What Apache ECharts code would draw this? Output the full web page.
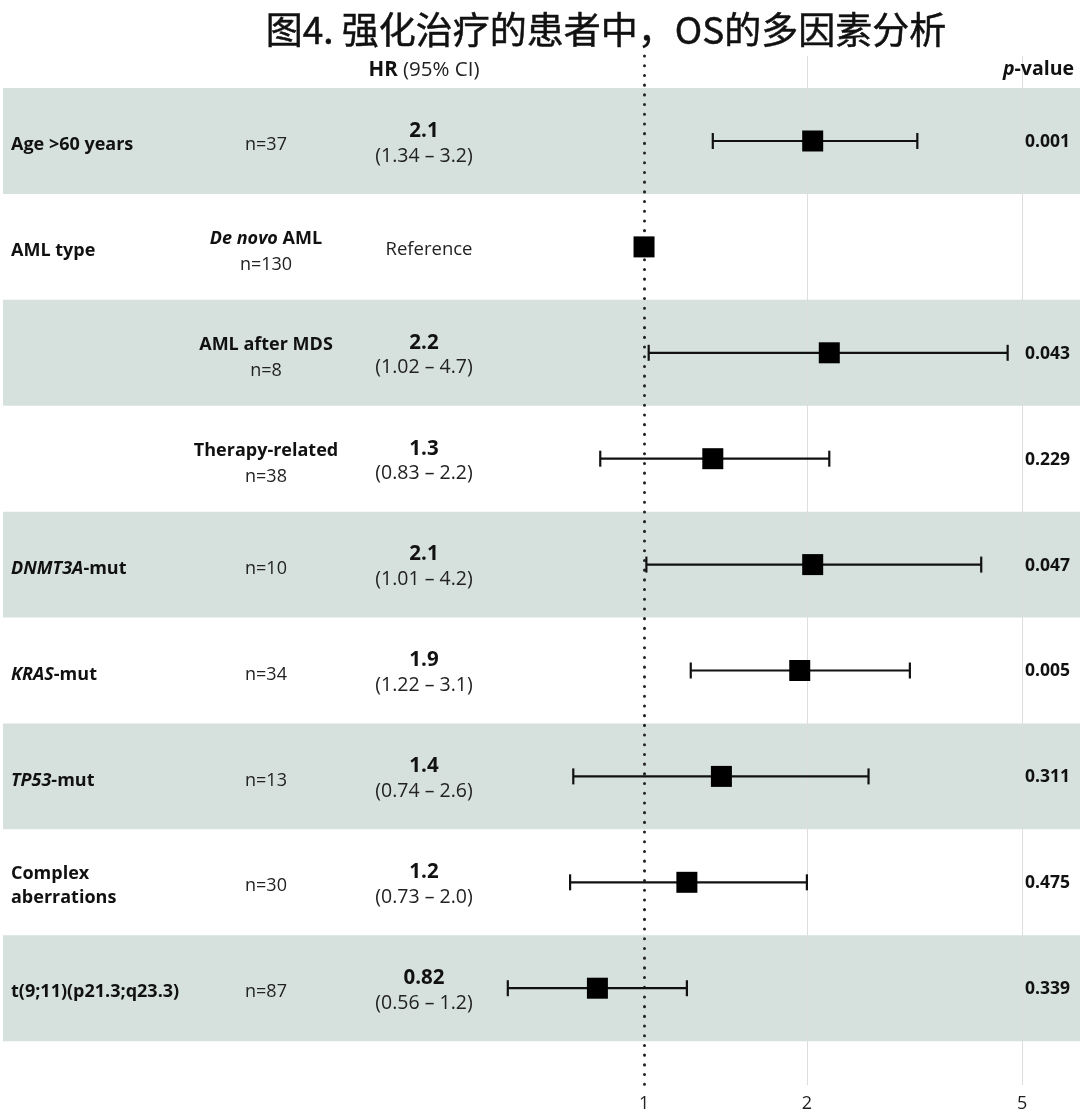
<!DOCTYPE html>
<html>
<head>
<meta charset="utf-8">
<script src="https://cdn.jsdelivr.net/npm/echarts@6/dist/echarts.min.js"></script>
<style>
html,body{margin:0;padding:0;background:#fff;}
#chart{width:1080px;height:1119px;}
</style>
</head>
<body>
<div id="chart"></div>
<script>
// ---- data ----
const rowLabels = ['Age >60 years', 'AML type', '', '', 'DNMT3A-mut', 'KRAS-mut', 'TP53-mut', 'Complex\naberrations', 't(9;11)(p21.3;q23.3)'];
const rowLabelItalic = ['', '', '', '', 'DNMT3A', 'KRAS', 'TP53', '', ''];
const subgroups = ['', 'De novo AML', 'AML after MDS', 'Therapy-related', '', '', '', '', ''];
const subgroupItalic = ['', 'De novo', '', '', '', '', '', '', ''];
const nCounts = [37, 130, 8, 38, 10, 34, 13, 30, 87];
const hrLabels = ['2.1', 'Reference', '2.2', '1.3', '2.1', '1.9', '1.4', '1.2', '0.82'];
const ciLabels = ['(1.34 – 3.2)', '', '(1.02 – 4.7)', '(0.83 – 2.2)', '(1.01 – 4.2)', '(1.22 – 3.1)', '(0.74 – 2.6)', '(0.73 – 2.0)', '(0.56 – 1.2)'];
const hrValues = [2.05, 1, 2.2, 1.34, 2.05, 1.94, 1.39, 1.2, 0.82];
const ciLower = [1.34, null, 1.02, 0.83, 1.01, 1.22, 0.74, 0.73, 0.56];
const ciUpper = [3.2, null, 4.7, 2.2, 4.2, 3.1, 2.6, 2.0, 1.2];
const pValues = ['0.001', '', '0.043', '0.229', '0.047', '0.005', '0.311', '0.475', '0.339'];
const xTickValues = [1, 2, 5];
const shadedRows = [0, 2, 4, 6, 8];

const L = v => Math.log10(v);
const FONT = '"Open Sans"';
const CJK = '"Noto Sans CJK SC"';
const rows = rowLabels.map((_, i) => i);

const chart = echarts.init(document.getElementById('chart'), null, {renderer: 'canvas'});

function bandItem(params, api) {
  const r = api.value(0);
  const y0 = api.coord([0, r - 0.5])[1];
  const y1 = api.coord([0, r + 0.5])[1];
  return {type: 'rect', shape: {x: 3, y: y0, width: api.getWidth() - 3, height: y1 - y0},
          style: {fill: '#d6e1de'}};
}

function whiskerItem(params, api) {
  const r = api.value(0);
  const p0 = api.coord([api.value(1), r]);
  const p1 = api.coord([api.value(2), r]);
  const st = {stroke: '#111', lineWidth: 2.2};
  const cap = 8;
  return {type: 'group', children: [
    {type: 'line', shape: {x1: p0[0], y1: p0[1], x2: p1[0], y2: p1[1]}, style: st},
    {type: 'line', shape: {x1: p0[0], y1: p0[1] - cap, x2: p0[0], y2: p0[1] + cap}, style: st},
    {type: 'line', shape: {x1: p1[0], y1: p1[1] - cap, x2: p1[0], y2: p1[1] + cap}, style: st}
  ]};
}

const rich = {
  b: {fontFamily: FONT, fontWeight: 'bold', fontSize: 18, fill: '#111', lineHeight: 24},
  bi: {fontFamily: FONT, fontWeight: 'bold', fontStyle: 'italic', fontSize: 18, fill: '#111', lineHeight: 24}
};

function richLabel(text, italicPart) {
  if (italicPart && text.indexOf(italicPart) === 0) {
    return '{bi|' + italicPart + '}{b|' + text.slice(italicPart.length) + '}';
  }
  return text.split('\n').map(t => '{b|' + t + '}').join('\n');
}

function textItem(params, api) {
  const i = api.value(0);
  const y = api.coord([0, i])[1];
  const children = [];
  if (rowLabels[i]) {
    children.push({type: 'text', style: {x: 11, y: y + 4, text: richLabel(rowLabels[i], rowLabelItalic[i]),
      rich: rich, align: 'left', verticalAlign: 'middle'}});
  }
  if (subgroups[i]) {
    children.push({type: 'text', style: {x: 266, y: y - 8, text: richLabel(subgroups[i], subgroupItalic[i]),
      rich: rich, align: 'center', verticalAlign: 'middle'}});
    children.push({type: 'text', style: {x: 266, y: y + 18, text: 'n=' + nCounts[i],
      font: '18px ' + FONT, fill: '#222', align: 'center', verticalAlign: 'middle'}});
  } else {
    children.push({type: 'text', style: {x: 266, y: y + 4, text: 'n=' + nCounts[i],
      font: '18px ' + FONT, fill: '#222', align: 'center', verticalAlign: 'middle'}});
  }
  if (ciLabels[i]) {
    children.push({type: 'text', style: {x: 424, y: y - 10, text: hrLabels[i],
      font: 'bold 20.5px ' + FONT, fill: '#111', align: 'center', verticalAlign: 'middle'}});
    children.push({type: 'text', style: {x: 424, y: y + 15, text: ciLabels[i],
      font: '19.5px ' + FONT, fill: '#222', align: 'center', verticalAlign: 'middle'}});
  } else {
    children.push({type: 'text', style: {x: 429, y: y + 3, text: hrLabels[i],
      font: '18.5px ' + FONT, fill: '#222', align: 'center', verticalAlign: 'middle'}});
  }
  if (pValues[i]) {
    children.push({type: 'text', style: {x: 1070, y: y + 1, text: pValues[i],
      font: 'bold 17.5px ' + FONT, fill: '#111', align: 'right', verticalAlign: 'middle'}});
  }
  return {type: 'group', children: children};
}

const option = {
  backgroundColor: '#ffffff',
  animation: false,
  title: {
    text: '图4. 强化治疗的患者中，OS的多因素分析',
    left: 601, top: 6, textAlign: 'center',
    textStyle: {fontFamily: CJK, fontSize: 37, fontWeight: 'normal', color: '#111',
      textBorderColor: '#111', textBorderWidth: 0.5}
  },
  graphic: [
    {type: 'text', x: 424, y: 70, z: 10, style: {text: '{b|HR }{r|(95% CI)}', align: 'center', verticalAlign: 'middle', rich: {
      b: {fontFamily: FONT, fontWeight: 'bold', fontSize: 20.5, fill: '#111'},
      r: {fontFamily: FONT, fontSize: 20.5, fill: '#222'}}}},
    {type: 'text', x: 1074, y: 69, z: 10, style: {text: '{i|p}{b|-value}', align: 'right', verticalAlign: 'middle', rich: {
      i: {fontFamily: FONT, fontWeight: 'bold', fontStyle: 'italic', fontSize: 19.5, fill: '#111'},
      b: {fontFamily: FONT, fontWeight: 'bold', fontSize: 19.5, fill: '#111'}}}}
  ],
  grid: {left: 0, right: 0, top: 56, bottom: 34},
  xAxis: {
    type: 'value', min: L(0.0645), max: L(6.395),
    axisLine: {show: false},
    axisTick: {show: false, customValues: xTickValues.slice(1).map(L)},
    splitLine: {show: true, lineStyle: {color: '#dedede', width: 1}},
    axisLabel: {customValues: xTickValues.map(L), formatter: v => String(Math.round(Math.pow(10, v))),
      fontFamily: FONT, fontSize: 18, color: '#222', margin: 10}
  },
  yAxis: {
    type: 'value', inverse: true, min: -0.8026, max: 8.914, show: false
  },
  series: [
    {type: 'custom', z: -10, silent: true, renderItem: bandItem,
      data: shadedRows.map(r => [r]), encode: {x: -1, y: 0}},
    {type: 'custom', silent: true, renderItem: whiskerItem, z: 3,
      data: rows.filter(i => ciLower[i] != null).map(i => [i, L(ciLower[i]), L(ciUpper[i])]),
      encode: {y: 0, x: [1, 2]},
      markLine: {silent: true, z: 2, symbol: 'none', label: {show: false},
        lineStyle: {color: '#222', width: 3, type: [0.1, 9.6], cap: 'round'},
        data: [{xAxis: L(1)}]}},
    {type: 'scatter', symbol: 'rect', symbolSize: 21, z: 4, silent: true,
      itemStyle: {color: '#000', opacity: 1},
      data: rows.map(i => [L(hrValues[i]), i])},
    {type: 'custom', silent: true, renderItem: textItem, z: 5,
      data: rows.map(i => [i]), encode: {y: 0, x: -1}}
  ]
};
chart.setOption(option);
</script>
</body>
</html>
